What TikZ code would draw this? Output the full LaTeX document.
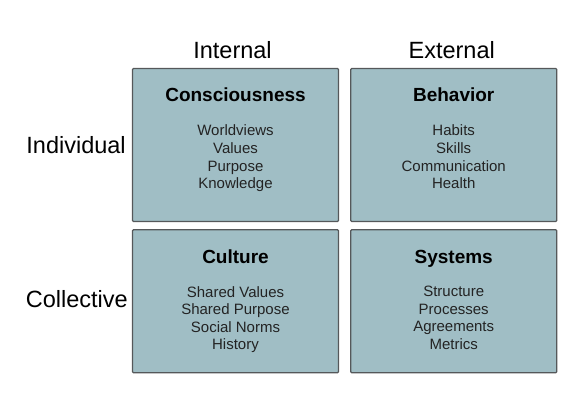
\documentclass[tikz,border=0pt]{standalone}
\usepackage{fontspec}
\setmainfont{Liberation Sans}
\usetikzlibrary{positioning}
\definecolor{quadfill}{RGB}{160,190,197}
\definecolor{quadline}{RGB}{85,88,90}
\definecolor{itemtext}{RGB}{35,35,35}
\tikzset{
    quadrant/.style={rectangle, draw=quadline, line width=1.2pt, fill=quadfill, minimum width=206pt, rounded corners=1pt},
    axislabel/.style={font=\fontsize{23.5}{28}\selectfont, inner sep=0pt},
    head/.style={font=\fontsize{19}{23}\selectfont\bfseries, anchor=base, inner sep=0pt},
    items/.style={font=\fontsize{15}{17.6}\selectfont, text=itemtext, align=center, anchor=north, inner sep=0pt},
}

\begin{document}
\begin{tikzpicture}[x=1pt, y=1pt]

\useasboundingbox (0,0) rectangle (588,-407);

% Quadrants
\node[quadrant, minimum height=153pt] (cons) at (235.5,-145) {};
\node[quadrant, minimum height=153pt, right=11pt of cons] (beh) {};
\node[quadrant, minimum height=143pt, below=7pt of cons] (cult) {};
\node[quadrant, minimum height=143pt, below=7pt of beh] (sys) {};

% Headings
\node[head] (conshead) at ([yshift=-34pt]cons.north) {Consciousness};
\node[head] (behhead) at ([yshift=-34pt]beh.north) {Behavior};
\node[head] (culthead) at ([yshift=-34pt]cult.north) {Culture};
\node[head] (syshead) at ([yshift=-34pt]sys.north) {Systems};

% Item lists
\node[items] (consitems) at ([yshift=-57pt]cons.north) {Worldviews\\Values\\Purpose\\Knowledge};
\node[items] (behitems) at ([yshift=-57pt]beh.north) {Habits\\Skills\\Communication\\Health};
\node[items] (cultitems) at ([yshift=-57pt]cult.north) {Shared Values\\Shared Purpose\\Social Norms\\History};
\node[items] (sysitems) at ([yshift=-57pt]sys.north) {Structure\\Processes\\Agreements\\Metrics};

% Axis labels
\node[axislabel, anchor=base] (internal) at ([xshift=-3pt, yshift=9pt]cons.north) {Internal};
\node[axislabel, anchor=base] (external) at ([xshift=-2pt, yshift=9pt]beh.north) {External};
\node[axislabel, anchor=east] (individual) at ([xshift=-6pt]cons.west) {Individual};
\node[axislabel, anchor=east] (collective) at ([xshift=-4pt, yshift=2pt]cult.west) {Collective};

\end{tikzpicture}
\end{document}
